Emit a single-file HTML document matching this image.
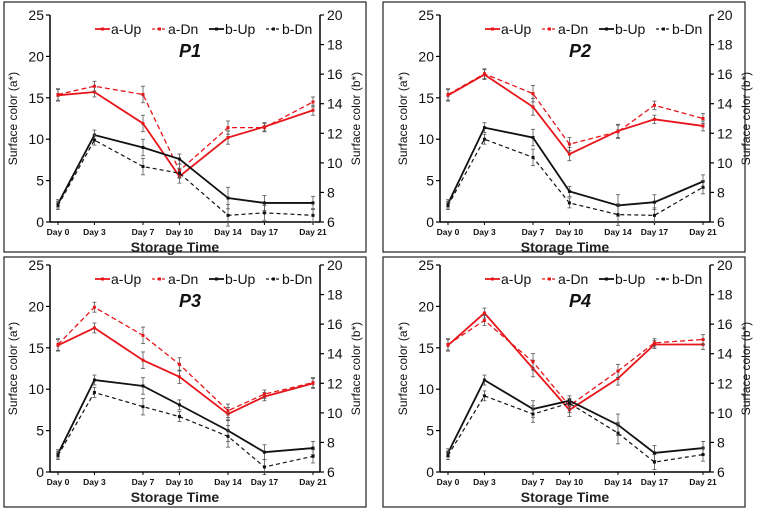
<!DOCTYPE html>
<html><head><meta charset="utf-8"><style>
html,body{margin:0;padding:0;background:#fff;}
svg{display:block;font-family:"Liberation Sans",sans-serif;}
</style></head><body>
<svg id="chart" width="760" height="513" viewBox="0 0 760 513"></svg>
<script>
const days=[0,3,7,10,14,17,21];
const dayLabels=["Day 0","Day 3","Day 7","Day 10","Day 14","Day 17","Day 21"];
const leftTicks=[0,5,10,15,20,25];
const rightTicks=[6,8,10,12,14,16,18,20];
const seriesNames=["a-Up","a-Dn","b-Up","b-Dn"];
const panelNames=["P1","P2","P3","P4"];
// a* values (left axis)
const p1aUp=[15.3,15.7,11.9,5.5,10.2,11.5,13.5];
const p1aDn=[15.4,16.4,15.4,6.2,11.4,11.4,14.5];
const p2aUp=[15.3,17.8,13.9,8.2,11.0,12.4,11.6];
const p2aDn=[15.4,17.9,15.5,9.4,10.9,14.1,12.5];
const p3aUp=[15.3,17.4,13.5,11.5,7.0,9.1,10.7];
const p3aDn=[15.4,19.9,16.5,13.0,7.4,9.4,10.8];
const p4aUp=[15.3,19.2,12.5,7.5,11.3,15.4,15.4];
const p4aDn=[15.4,18.3,13.3,8.0,12.2,15.6,16.0];
// b* values (right axis)
const p1bUp=[7.23,11.88,11.04,10.26,7.62,7.29,7.29];
const p1bDn=[7.12,11.54,9.75,9.30,6.45,6.62,6.45];
const p2bUp=[7.23,12.38,11.71,8.07,7.12,7.34,8.74];
const p2bDn=[7.12,11.60,10.37,7.29,6.50,6.45,8.35];
const p3bUp=[7.23,12.22,11.82,10.54,8.80,7.34,7.62];
const p3bDn=[7.12,11.38,10.42,9.75,8.41,6.34,7.06];
const p4bUp=[7.29,12.22,10.26,10.82,9.19,7.29,7.62];
const p4bDn=[7.12,11.15,9.92,10.65,8.63,6.67,7.18];
// error bars (left-axis units)
const errA=[0.7,0.6,1.0,0.8,0.8,0.5,0.6];
const errB=[0.5,0.6,1.0,0.6,1.3,0.9,0.8];

const NS="http://www.w3.org/2000/svg";
const svg=document.getElementById('chart');
function el(tag,attrs,parent,text){const e=document.createElementNS(NS,tag);for(const k in attrs)e.setAttribute(k,attrs[k]);if(text!==undefined)e.textContent=text;(parent||svg).appendChild(e);return e;}

const panels=[
 {fx:4,fy:2,ox:50,oy:15,aUp:p1aUp,aDn:p1aDn,bUp:p1bUp,bDn:p1bDn},
 {fx:383,fy:2,ox:440,oy:15,aUp:p2aUp,aDn:p2aDn,bUp:p2bUp,bDn:p2bDn},
 {fx:4,fy:257,ox:50,oy:265,aUp:p3aUp,aDn:p3aDn,bUp:p3bUp,bDn:p3bDn},
 {fx:383,fy:257,ox:440,oy:265,aUp:p4aUp,aDn:p4aDn,bUp:p4bUp,bDn:p4bDn}
];

panels.forEach((p,pi)=>{
  const g=el('g',{});
  
  
  const W=270,H=207;
  const x=d=>p.ox+8+d/21*255;
  const yL=v=>p.oy+H-v/25*H;
  const yR=v=>p.oy+H-(v-6)/14*H;
  const fr=el('rect',{x:p.fx,y:p.fy,width:362,height:250,fill:'none',stroke:'#222','stroke-width':1.2},g);
  
  // axes
  el('line',{x1:p.ox,y1:p.oy,x2:p.ox,y2:p.oy+H,stroke:'#000','stroke-width':1.5},g);
  el('line',{x1:p.ox+W,y1:p.oy,x2:p.ox+W,y2:p.oy+H,stroke:'#000','stroke-width':1.5},g);
  el('line',{x1:p.ox,y1:p.oy+H,x2:p.ox+W,y2:p.oy+H,stroke:'#000','stroke-width':1.5},g);
  leftTicks.forEach(t=>{
    el('line',{x1:p.ox-4,y1:yL(t),x2:p.ox,y2:yL(t),stroke:'#000','stroke-width':1.2},g);
    const tl=el('text',{x:p.ox-6,y:yL(t)+5,'text-anchor':'end','font-size':14,fill:'#111'},g,String(t));
    
  });
  rightTicks.forEach(t=>{
    el('line',{x1:p.ox+W,y1:yR(t),x2:p.ox+W+4,y2:yR(t),stroke:'#000','stroke-width':1.2},g);
    const tl=el('text',{x:p.ox+W+7,y:yR(t)+5,'font-size':14,fill:'#111'},g,String(t));
    
  });
  days.forEach((d,i)=>{
    el('line',{x1:x(d),y1:p.oy+H,x2:x(d),y2:p.oy+H+3,stroke:'#000','stroke-width':1},g);
    const tl=el('text',{x:x(d),y:p.oy+H+13,'text-anchor':'middle','font-size':8.5,'font-weight':'bold',fill:'#111'},g,dayLabels[i]);
    
  });
  const xt=el('text',{x:p.ox+W/2-10,y:p.oy+H+30,'text-anchor':'middle','font-size':14,'font-weight':'bold',fill:'#222'},g,'Storage Time');
  
  const yt=el('text',{transform:`translate(${p.ox-33},${p.oy+H/2}) rotate(-90)`,'text-anchor':'middle','font-size':12,fill:'#111'},g,'Surface color (a*)');
  
  const yt2=el('text',{transform:`translate(${p.ox+W+40},${p.oy+H/2}) rotate(-90)`,'text-anchor':'middle','font-size':12,fill:'#111'},g,'Surface color (b*)');
  
  const tt=el('text',{x:p.ox+140,y:p.oy+42,'text-anchor':'middle','font-size':18,'font-weight':'bold','font-style':'italic',fill:'#111'},g,panelNames[pi]);
  
  // series
  const defs=[
    {vals:p.aUp,y:yL,col:'#e8161b',dash:'',w:1.8,err:errA},
    {vals:p.aDn,y:yL,col:'#e8161b',dash:'5,3',w:1.3,err:errA},
    {vals:p.bUp,y:yR,col:'#111',dash:'',w:1.8,err:errB},
    {vals:p.bDn,y:yR,col:'#111',dash:'4,3',w:1.2,err:errB}
  ];
  defs.forEach((s,si)=>{
    const pts=s.vals.map((v,i)=>x(days[i])+','+s.y(v)).join(' ');
    const pl=el('polyline',{points:pts,fill:'none',stroke:s.col,'stroke-width':s.w,'stroke-dasharray':s.dash},g);
    
    
    s.vals.forEach((v,i)=>{
      const cx=x(days[i]),cy=s.y(v),e=s.err[i]*H/25;
      el('line',{x1:cx,y1:cy-e,x2:cx,y2:cy+e,stroke:'#555','stroke-width':0.8},g);
      el('line',{x1:cx-2,y1:cy-e,x2:cx+2,y2:cy-e,stroke:'#555','stroke-width':0.8},g);
      el('line',{x1:cx-2,y1:cy+e,x2:cx+2,y2:cy+e,stroke:'#555','stroke-width':0.8},g);
      const m=el('rect',{x:cx-1.5,y:cy-1.5,width:3,height:3,fill:s.col},g);
      
      
    });
    // legend
    const lx=p.ox+45+si*57, ly=p.oy+14;
    const lg=el('g',{},g);
    
    
    el('line',{x1:lx,y1:ly,x2:lx+15,y2:ly,stroke:s.col,'stroke-width':s.w,'stroke-dasharray':s.dash?'3,2':''},lg);
    el('rect',{x:lx+6,y:ly-1.5,width:3,height:3,fill:s.col},lg);
    el('text',{x:lx+16,y:ly+5,'font-size':14,fill:'#111'},lg,seriesNames[si]);
  });
});
</script>
</body></html>
